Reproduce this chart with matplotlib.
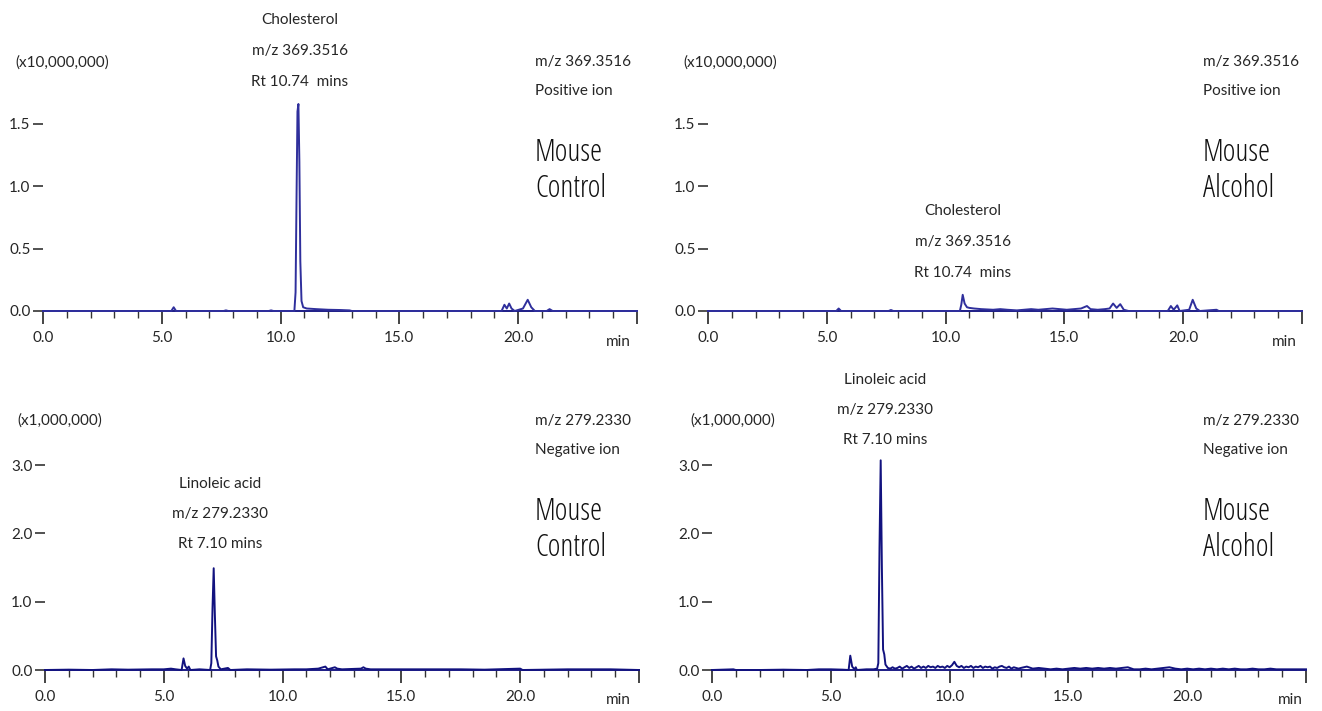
import matplotlib.pyplot as plt
import matplotlib.ticker as mticker

# Extracted ion chromatograms (time in min, intensity in axis units)
chol_ctrl_t = [0.0, 5.4, 5.5, 5.6, 7.6, 7.7, 7.8, 9.5, 9.6, 9.7, 10.58, 10.63, 10.67, 10.71,
               10.75, 10.79, 10.83, 10.88, 10.95, 11.1, 11.5, 12.0, 12.5, 12.9, 13.0, 19.3, 19.42,
               19.52, 19.62, 19.72, 19.85, 20.2, 20.4, 20.55, 20.7, 21.2, 21.32, 21.45, 25.0]
chol_ctrl_i = [0.0, 0.0, 0.03, 0.0, 0.0, 0.005, 0.0, 0.0, 0.005, 0.0, 0.0, 0.15, 0.9, 1.6,
               1.66, 1.2, 0.4, 0.08, 0.03, 0.02, 0.015, 0.01, 0.008, 0.005, 0.0, 0.0, 0.05,
               0.02, 0.06, 0.02, 0.0, 0.02, 0.09, 0.03, 0.0, 0.0, 0.015, 0.0, 0.0]

chol_alc_t = [0.0, 5.4, 5.5, 5.6, 7.6, 7.7, 7.8, 10.6, 10.66, 10.72, 10.8, 10.9, 11.0, 11.2,
              11.5, 11.8, 12.0, 12.3, 12.6, 13.0, 13.3, 13.6, 13.9, 14.2, 14.5, 14.8, 15.1,
              15.4, 15.7, 15.95, 16.1, 16.4, 16.7, 16.9, 17.05, 17.2, 17.35, 17.5, 17.7,
              19.35, 19.48, 19.6, 19.75, 19.85, 20.25, 20.4, 20.55, 20.7, 21.4, 21.5, 25.0]
chol_alc_i = [0.0, 0.0, 0.02, 0.0, 0.0, 0.008, 0.0, 0.0, 0.05, 0.13, 0.06, 0.03, 0.025, 0.02,
              0.015, 0.012, 0.01, 0.015, 0.01, 0.005, 0.01, 0.015, 0.01, 0.015, 0.02, 0.015, 0.01,
              0.015, 0.02, 0.04, 0.015, 0.01, 0.015, 0.02, 0.06, 0.025, 0.055, 0.01, 0.0,
              0.0, 0.04, 0.01, 0.045, 0.0, 0.01, 0.09, 0.02, 0.0, 0.01, 0.0, 0.0]

lin_ctrl_t = [0.0, 1.0, 2.0, 2.8, 3.5, 4.5, 5.0, 5.3, 5.5, 5.75, 5.83, 5.9, 5.98, 6.05, 6.12,
              6.5, 6.95, 7.0, 7.05, 7.1, 7.15, 7.2, 7.25, 7.3, 7.4, 7.7, 7.8, 8.5, 9.5, 10.5,
              11.0, 11.5, 11.8, 11.9, 12.2, 12.3, 12.5, 13.3, 13.4, 13.5, 13.7, 14.5, 15.5,
              16.5, 17.5, 18.5, 20.0, 20.1, 22.0, 23.8, 25.0]
lin_ctrl_i = [0.0, 0.005, 0.0, 0.01, 0.005, 0.01, 0.01, 0.02, 0.01, 0.0, 0.17, 0.06, 0.02, 0.05, 0.0,
              0.01, 0.0, 0.1, 0.9, 1.49, 0.8, 0.2, 0.14, 0.05, 0.01, 0.03, 0.0, 0.01, 0.005, 0.01,
              0.01, 0.02, 0.05, 0.01, 0.04, 0.02, 0.01, 0.02, 0.04, 0.02, 0.01, 0.01, 0.01,
              0.01, 0.01, 0.005, 0.02, 0.0, 0.01, 0.01, 0.0]

lin_alc_t = [0.0, 0.9, 1.0, 2.0, 3.0, 4.0, 4.5, 5.0, 5.5, 5.75, 5.82, 5.9, 6.0, 6.05, 6.1,
             6.5, 6.8, 6.95, 7.0, 7.05, 7.1, 7.15, 7.2, 7.25, 7.3,
             7.4, 7.5, 7.6, 7.7, 7.8, 7.9, 8.0, 8.1, 8.2, 8.3, 8.4, 8.5, 8.6, 8.7, 8.8, 8.9,
             9.0, 9.1, 9.2, 9.3, 9.4, 9.5, 9.6, 9.7, 9.8, 9.9, 10.0, 10.1, 10.2, 10.3, 10.4,
             10.5, 10.6, 10.7, 10.8, 10.9, 11.0, 11.1, 11.2, 11.3, 11.4, 11.5, 11.6, 11.7,
             11.8, 11.9, 12.0, 12.1, 12.2, 12.3, 12.4, 12.5, 12.6, 12.7, 12.8, 12.9, 13.0,
             13.25, 13.5, 13.75, 14.0, 14.25, 14.5, 14.75, 15.0, 15.25, 15.5, 15.75, 16.0,
             16.25, 16.5, 16.75, 17.0, 17.25, 17.5, 17.75, 18.0, 18.25, 18.5, 18.75, 19.0,
             19.25, 19.5, 19.75, 20.0, 20.25, 20.5, 20.75, 21.0, 21.25, 21.5, 21.75, 22.0,
             22.25, 22.5, 22.75, 23.0, 23.25, 23.5, 23.75, 24.0, 24.25, 24.5, 24.75, 25.0]
lin_alc_i = [0.0, 0.01, 0.0, 0.0, 0.005, 0.0, 0.01, 0.01, 0.005, 0.0, 0.21, 0.05, 0.01, 0.04, 0.0,
             0.01, 0.01, 0.02, 0.1, 1.8, 3.07, 1.5, 0.3, 0.23, 0.08,
             0.03, 0.02, 0.04, 0.02, 0.03, 0.05, 0.02, 0.04, 0.06, 0.03, 0.05, 0.02, 0.04, 0.06, 0.03, 0.05,
             0.03, 0.06, 0.04, 0.05, 0.03, 0.06, 0.04, 0.05, 0.03, 0.06, 0.04, 0.07, 0.12, 0.06, 0.04,
             0.06, 0.03, 0.05, 0.04, 0.06, 0.03, 0.05, 0.04, 0.06, 0.03, 0.05, 0.04, 0.05,
             0.02, 0.04, 0.03, 0.05, 0.06, 0.04, 0.03, 0.05, 0.02, 0.04, 0.03, 0.02, 0.03,
             0.05, 0.02, 0.03, 0.02, 0.01, 0.02, 0.01, 0.02, 0.03, 0.02, 0.03, 0.02,
             0.03, 0.02, 0.03, 0.02, 0.03, 0.04, 0.01, 0.01, 0.02, 0.01, 0.02, 0.03,
             0.04, 0.02, 0.01, 0.02, 0.01, 0.02, 0.01, 0.02, 0.01, 0.02, 0.01, 0.02,
             0.01, 0.01, 0.02, 0.01, 0.01, 0.02, 0.01, 0.01, 0.01, 0.01, 0.01, 0.01]

x_major = [0, 5, 10, 15, 20, 25]
x_labels = ['0.0', '5.0', '10.0', '15.0', '20.0', '']
y_top_ticks = [0.0, 0.5, 1.0, 1.5]
y_bot_ticks = [0.0, 1.0, 2.0, 3.0]

W, H = 1322, 711
TXT = '#262626'
plt.rcParams['font.family'] = ['Lato', 'DejaVu Sans']

fig = plt.figure(figsize=(W / 100, H / 100), dpi=100)
fig.patch.set_facecolor('white')


def ftext(x, y, s, size=11, ha='left', big=False):
    if big:
        # sample names use a narrow face, like the instrument export
        fig.text(x / W, 1 - y / H, s, fontsize=size, ha=ha, va='center', color='#111111',
                 family=['Open Sans', 'Lato'], fontstretch='condensed')
    else:
        fig.text(x / W, 1 - y / H, s, fontsize=size, ha=ha, va='center', color=TXT)


def panel(left, right, base, ytop, ppu, yticks, t, i, color):
    ax = fig.add_axes([left / W, 1 - base / H, (right - left) / W, ytop * ppu / H])
    ax.plot(t, i, color=color, lw=1.4, clip_on=False, zorder=3)
    ax.set_xlim(0, 25)
    ax.set_ylim(0, ytop)
    for s in ['top', 'right', 'left']:
        ax.spines[s].set_visible(False)
    ax.spines['bottom'].set_color('#1c1c86')
    ax.spines['bottom'].set_linewidth(1.4)
    ax.set_xticks(x_major)
    ax.set_xticklabels(x_labels)
    ax.xaxis.set_minor_locator(mticker.MultipleLocator(1))
    ax.tick_params(axis='x', which='major', length=9.5, width=1.1, color='#111111',
                   pad=5, labelsize=11, labelcolor=TXT)
    ax.tick_params(axis='x', which='minor', length=5, width=1.0, color='#333333')
    ax.set_yticks(yticks)
    ax.yaxis.set_major_formatter(mticker.FormatStrFormatter('%.1f'))
    ax.tick_params(axis='y', length=7, width=1.1, color='#222222', pad=2,
                   labelsize=11, labelcolor=TXT)
    ax.patch.set_alpha(0)
    return ax


# top row: cholesterol, positive ion (x10,000,000)
panel(43, 637, 311, 1.75, 124.7, y_top_ticks, chol_ctrl_t, chol_ctrl_i, '#2f2f9c')
panel(708, 1302, 311, 1.75, 124.7, y_top_ticks, chol_alc_t, chol_alc_i, '#2f2f9c')
# bottom row: linoleic acid, negative ion (x1,000,000)
panel(45, 639, 670, 3.2, 68.3, y_bot_ticks, lin_ctrl_t, lin_ctrl_i, '#12127f')
panel(712, 1306, 670, 3.2, 68.3, y_bot_ticks, lin_alc_t, lin_alc_i, '#12127f')

# axis unit labels
for x, y, s in [(15, 63, '(x10,000,000)'), (683, 63, '(x10,000,000)'),
                (17, 421, '(x1,000,000)'), (690, 421, '(x1,000,000)')]:
    ftext(x, y, s)
for x, y in [(618, 342), (1284, 342), (618, 700), (1290, 700)]:
    ftext(x, y, 'min', ha='center')

# ion / sample labels
for x, ion, sample in [(535, 'Positive ion', 'Control'), (1203, 'Positive ion', 'Alcohol')]:
    ftext(x, 62, 'm/z 369.3516')
    ftext(x, 91, ion)
    ftext(x, 153, 'Mouse', size=22, big=True)
    ftext(x, 189, sample, size=22, big=True)
for x, ion, sample in [(535, 'Negative ion', 'Control'), (1203, 'Negative ion', 'Alcohol')]:
    ftext(x, 421, 'm/z 279.2330')
    ftext(x, 450, ion)
    ftext(x, 512, 'Mouse', size=22, big=True)
    ftext(x, 548, sample, size=22, big=True)

# peak annotations
for x, y in [(300, 20), (963, 211)]:
    ftext(x, y, 'Cholesterol', ha='center')
    ftext(x, y + 31, 'm/z 369.3516', ha='center')
    ftext(x, y + 62, 'Rt 10.74  mins', ha='center')
for x, y in [(220, 484), (885, 380)]:
    ftext(x, y, 'Linoleic acid', ha='center')
    ftext(x, y + 30, 'm/z 279.2330', ha='center')
    ftext(x, y + 60, 'Rt 7.10 mins', ha='center')

plt.savefig('out.png', dpi=100, facecolor=fig.get_facecolor())
